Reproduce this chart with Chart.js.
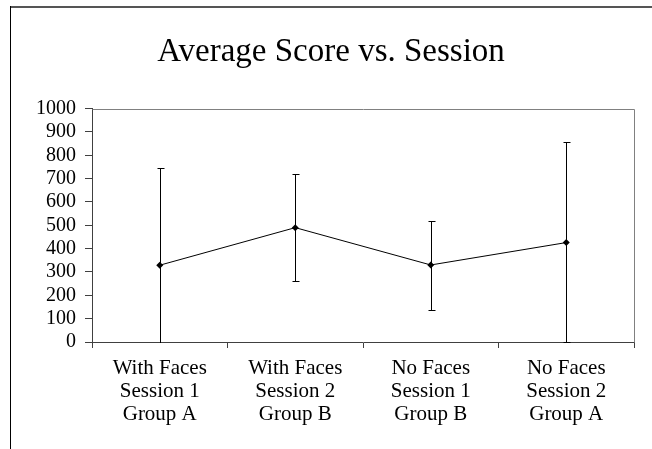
<!DOCTYPE html>
<html>
<head>
<meta charset="utf-8">
<script src="https://cdn.jsdelivr.net/npm/chart.js@4"></script>
<style>
  html, body { margin: 0; padding: 0; background: #fff; }
  #wrap { position: relative; width: 652px; height: 449px; }
</style>
</head>
<body>
<div id="wrap"><canvas id="scoreChart"></canvas></div>
<script>
// Data
var categories = [
  ['With Faces', 'Session 1', 'Group A'],
  ['With Faces', 'Session 2', 'Group B'],
  ['No Faces', 'Session 1', 'Group B'],
  ['No Faces', 'Session 2', 'Group A']
];
var averageScores = [329, 490, 330, 426];
var errorHigh = [745, 718, 520, 855];
var errorLow = [-87, 262, 138, 0];
var yTicks = [0, 100, 200, 300, 400, 500, 600, 700, 800, 900, 1000];

Chart.defaults.font.family = '"Liberation Serif", "Times New Roman", serif';
Chart.defaults.color = '#000';

// page frame + plot box
var framePlugin = {
  id: 'frame',
  beforeDraw: function (chart) {
    var ctx = chart.ctx;
    ctx.save();
    ctx.fillStyle = '#fff';
    ctx.fillRect(0, 0, chart.width, chart.height);
    ctx.strokeStyle = '#555';
    ctx.lineWidth = 2;
    ctx.beginPath();
    ctx.moveTo(10, 7);
    ctx.lineTo(chart.width, 7);
    ctx.stroke();
    ctx.strokeStyle = '#000';
    ctx.lineWidth = 1;
    ctx.beginPath();
    ctx.moveTo(10.5, 6);
    ctx.lineTo(10.5, chart.height);
    ctx.stroke();
    ctx.restore();
  },
  afterDatasetsDraw: function (chart) {
    var a = chart.chartArea;
    var ctx = chart.ctx;
    ctx.save();
    ctx.strokeStyle = '#808080';
    ctx.lineWidth = 1;
    ctx.beginPath();
    ctx.moveTo(Math.round(a.left) + 0.5, Math.round(a.top) + 0.5);
    ctx.lineTo(Math.round(a.right) + 0.5, Math.round(a.top) + 0.5);
    ctx.lineTo(Math.round(a.right) + 0.5, Math.round(a.bottom) + 0.5);
    ctx.stroke();
    ctx.restore();
  }
};

// error bars from the errorHigh / errorLow arrays
var errorBarPlugin = {
  id: 'errorBars',
  beforeDatasetsDraw: function (chart) {
    var ctx = chart.ctx;
    var x = chart.scales.x;
    var y = chart.scales.y;
    var a = chart.chartArea;
    ctx.save();
    ctx.beginPath();
    ctx.rect(a.left, a.top - 1, a.right - a.left, a.bottom - a.top + 2);
    ctx.clip();
    ctx.strokeStyle = '#000';
    ctx.lineWidth = 1;
    for (var i = 0; i < averageScores.length; i++) {
      var px = Math.round(x.getPixelForValue(i)) + 0.5;
      var hi = Math.round(y.getPixelForValue(errorHigh[i])) + 0.5;
      var lo = Math.round(y.getPixelForValue(errorLow[i])) + 0.5;
      ctx.beginPath();
      ctx.moveTo(px, hi);
      ctx.lineTo(px, lo);
      ctx.moveTo(px - 3, hi);
      ctx.lineTo(px + 4, hi);
      ctx.moveTo(px - 3, lo);
      ctx.lineTo(px + 4, lo);
      ctx.stroke();
    }
    ctx.restore();
  }
};

document.addEventListener('DOMContentLoaded', function () {
  var ctx = document.getElementById('scoreChart').getContext('2d');
  new Chart(ctx, {
    type: 'line',
    data: {
      labels: categories,
      datasets: [{
        label: 'Average Score',
        data: averageScores,
        borderColor: '#000',
        backgroundColor: '#000',
        borderWidth: 1,
        tension: 0,
        pointStyle: 'rectRot',
        pointRadius: 3.5,
        pointBackgroundColor: '#000',
        pointBorderColor: '#000',
        pointBorderWidth: 0
      }]
    },
    options: {
      responsive: true,
      maintainAspectRatio: false,
      animation: false,
      layout: { padding: { left: 28, right: 18, top: 0, bottom: 0 } },
      plugins: {
        legend: { display: false },
        tooltip: { enabled: false },
        title: {
          display: true,
          text: 'Average Score vs. Session',
          color: '#000',
          font: { size: 33, weight: 'normal', lineHeight: 1.2 },
          padding: { top: 33, bottom: 36 }
        }
      },
      scales: {
        y: {
          min: 0,
          max: 1000,
          afterBuildTicks: function (scale) {
            scale.ticks = yTicks.map(function (v) { return { value: v }; });
          },
          afterFit: function (scale) { scale.width = 64; },
          ticks: {
            autoSkip: false,
            padding: 9,
            font: { size: 20 },
            color: '#000',
            callback: function (value) { return String(value); }
          },
          grid: {
            drawOnChartArea: false,
            tickLength: 7,
            color: '#404040'
          },
          border: { color: '#404040', width: 1 }
        },
        x: {
          offset: true,
          afterFit: function (scale) { scale.height = 107; },
          ticks: {
            padding: 9,
            maxRotation: 0,
            autoSkip: false,
            font: { size: 21, lineHeight: 1.1 },
            color: '#000'
          },
          grid: {
            offset: true,
            drawOnChartArea: false,
            tickLength: 6,
            color: '#404040'
          },
          border: { color: '#404040', width: 1 }
        }
      }
    },
    plugins: [framePlugin, errorBarPlugin]
  });
});
</script>
</body>
</html>
